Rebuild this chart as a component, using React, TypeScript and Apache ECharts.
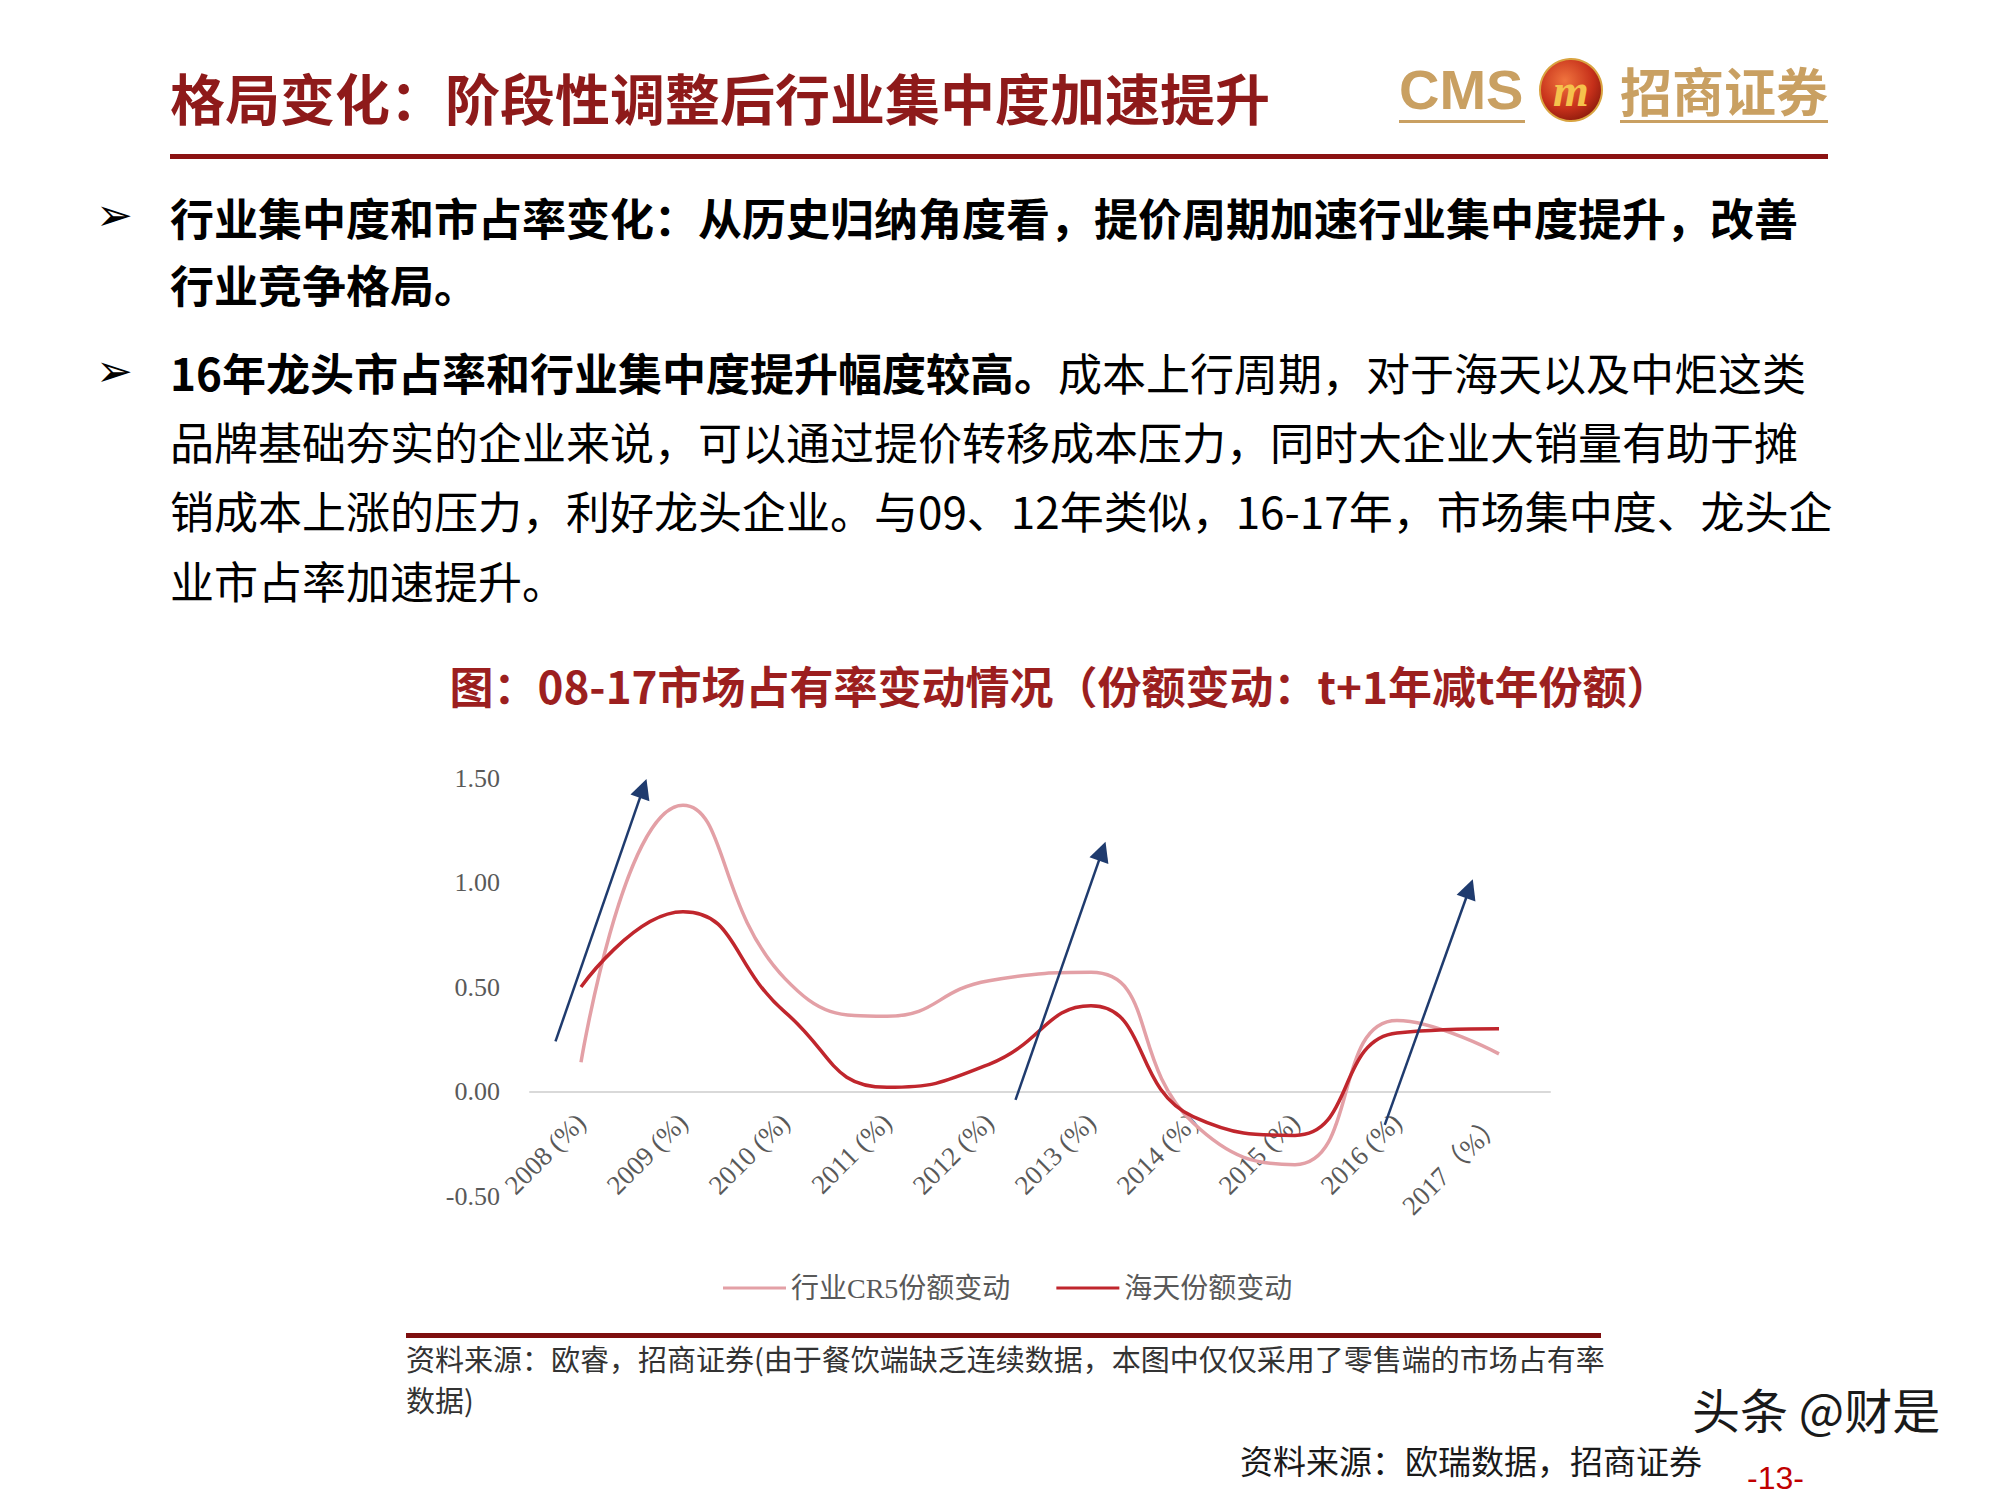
import React, { useEffect, useRef } from 'react';
import * as echarts from 'echarts';

// ---- data ----
const categories = ['2008 (%)', '2009 (%)', '2010 (%)', '2011 (%)', '2012 (%)', '2013 (%)', '2014 (%)', '2015 (%)', '2016 (%)', '2017（%）'];
const cr5Change = [0.14, 1.37, 0.54, 0.36, 0.53, 0.57, -0.15, -0.35, 0.34, 0.18];
const haitianChange = [0.5, 0.86, 0.38, 0.02, 0.13, 0.41, -0.12, -0.21, 0.28, 0.3];
const seriesNames = ['行业CR5份额变动', '海天份额变动'];
const yMin = -0.5;
const yMax = 1.5;
const yInterval = 0.5;
// arrow annotations: [category index position, value]
const arrowSegments = [
  [[-0.25, 0.24], [0.61, 1.45]],
  [[4.26, -0.04], [5.11, 1.15]],
  [[7.88, -0.16], [8.71, 0.97]],
];

const pageTitle = '格局变化：阶段性调整后行业集中度加速提升';
const chartTitle = '图：08-17市场占有率变动情况（份额变动：t+1年减t年份额）';
const bullet1Lines = ['行业集中度和市占率变化：从历史归纳角度看，提价周期加速行业集中度提升，改善', '行业竞争格局。'];
const bullet2Bold = '16年龙头市占率和行业集中度提升幅度较高。';
const bullet2Rest = '成本上行周期，对于海天以及中炬这类';
const bullet2Lines = ['品牌基础夯实的企业来说，可以通过提价转移成本压力，同时大企业大销量有助于摊', '销成本上涨的压力，利好龙头企业。与09、12年类似，16-17年，市场集中度、龙头企', '业市占率加速提升。'];
const noteLines = ['资料来源：欧睿，招商证券(由于餐饮端缺乏连续数据，本图中仅仅采用了零售端的市场占有率', '数据)'];
const footSource = '资料来源：欧瑞数据，招商证券';
const pageNo = '-13-';
const watermark = '头条 @财是';

const CJK = '"Noto Sans CJK SC", sans-serif';
const SERIF = '"Liberation Serif", "Noto Sans CJK SC", serif';
const GOLD = '#C9A062';
const DARKRED = '#8E1A1A';

export default function App() {
  const ref = useRef<HTMLDivElement>(null);
  useEffect(() => {
    if (!ref.current) return;
    const chart = echarts.init(ref.current, null, { renderer: 'svg' });

    const txt = (x: number, y: number, text: string, size: number, opts: any = {}) => ({
      type: 'text',
      x,
      y,
      silent: true,
      style: {
        text,
        fontSize: size,
        fontFamily: opts.family || CJK,
        fontWeight: opts.weight || 'normal',
        fontStyle: opts.style || 'normal',
        fill: opts.fill || '#000',
        align: opts.align || 'left',
        verticalAlign: 'middle',
        ...(opts.extra || {}),
      },
    });

    const bodySize = 44;
    const graphics: any[] = [
      // title
      txt(170, 96, pageTitle, 55, { weight: 'bold', fill: DARKRED }),
      { type: 'rect', silent: true, shape: { x: 170, y: 154, width: 1658, height: 5 }, style: { fill: '#8B1212' } },
      // logo
      txt(1399, 89, 'CMS', 56, { weight: 'bold', family: '"Liberation Sans", Arial, sans-serif', fill: GOLD }),
      { type: 'rect', silent: true, shape: { x: 1399, y: 120, width: 126, height: 3 }, style: { fill: GOLD } },
      {
        type: 'circle', silent: true,
        shape: { cx: 1571, cy: 90, r: 31 },
        style: {
          fill: new echarts.graphic.RadialGradient(0.4, 0.35, 0.7, [
            { offset: 0, color: '#F0743E' },
            { offset: 0.65, color: '#C6301A' },
            { offset: 1, color: '#8A1A0C' },
          ]),
          stroke: '#D9A441',
          lineWidth: 2,
        },
      },
      txt(1571, 90, 'm', 46, { weight: 'bold', style: 'italic', family: SERIF, fill: '#F5C24C', align: 'center' }),
      txt(1620, 89, '招商证券', 52, { weight: 'bold', fill: GOLD }),
      { type: 'rect', silent: true, shape: { x: 1620, y: 120, width: 208, height: 3 }, style: { fill: GOLD } },
      // bullets
      txt(96, 214, '➢', 44, { family: '"DejaVu Sans", sans-serif' }),
      txt(96, 370, '➢', 44, { family: '"DejaVu Sans", sans-serif' }),
      txt(170, 217, bullet1Lines[0], bodySize, { weight: 'bold' }),
      txt(170, 284, bullet1Lines[1], bodySize, { weight: 'bold' }),
      {
        type: 'text', x: 170, y: 372, silent: true,
        style: {
          text: '{b|' + bullet2Bold + '}{n|' + bullet2Rest + '}',
          verticalAlign: 'middle',
          rich: {
            b: { fontSize: bodySize, fontWeight: 'bold', fontFamily: CJK, fill: '#000', color: '#000' },
            n: { fontSize: bodySize, fontWeight: 'normal', fontFamily: CJK, fill: '#000', color: '#000' },
          },
        },
      },
      txt(170, 441, bullet2Lines[0], bodySize),
      txt(170, 510, bullet2Lines[1], bodySize),
      txt(170, 580, bullet2Lines[2], bodySize),
      // chart title
      txt(1060, 685, chartTitle, 44, { weight: 'bold', fill: '#9C1F1F', align: 'center' }),
      // bottom rule and note
      { type: 'rect', silent: true, shape: { x: 406, y: 1333, width: 1195, height: 5 }, style: { fill: '#7E0F0F' } },
      txt(406, 1358, noteLines[0], 29, { fill: '#333' }),
      txt(406, 1399, noteLines[1], 29, { fill: '#333' }),
      txt(1240, 1460, footSource, 33, { fill: '#1a1a1a' }),
      txt(1692, 1408, watermark, 48, { fill: '#1a1a1a', extra: { stroke: '#ffffff', lineWidth: 2 } }),
      txt(1747, 1478, pageNo, 32, { family: '"Liberation Sans", Arial, sans-serif', fill: '#C00000' }),
    ];

    chart.setOption({
      animation: false,
      backgroundColor: '#ffffff',
      grid: { left: 530, right: 450, top: 778, bottom: 304, containLabel: false },
      legend: {
        data: seriesNames,
        left: 718,
        top: 1269,
        icon: 'rect',
        itemWidth: 63,
        itemHeight: 3,
        itemGap: 46,
        textStyle: { fontSize: 28, color: '#595959', fontFamily: SERIF },
      },
      xAxis: [
        {
          type: 'category',
          data: categories,
          boundaryGap: true,
          position: 'bottom',
          offset: -104,
          axisLine: { show: true, onZero: false, lineStyle: { color: '#D9D9D9', width: 2 } },
          axisTick: { show: false },
          axisLabel: { rotate: 45, margin: 26, fontSize: 27, color: '#595959', fontFamily: SERIF, interval: 0 },
          splitLine: { show: false },
        },
        { type: 'value', min: -0.5, max: categories.length - 0.5, show: false },
      ],
      yAxis: {
        type: 'value',
        min: yMin,
        max: yMax,
        interval: yInterval,
        axisLine: { show: false },
        axisTick: { show: false },
        splitLine: { show: false },
        axisLabel: {
          margin: 30,
          fontSize: 26,
          color: '#595959',
          fontFamily: SERIF,
          formatter: (v: number) => v.toFixed(2),
        },
      },
      series: [
        {
          name: seriesNames[0],
          type: 'line',
          data: cr5Change,
          smooth: 0.5,
          symbol: 'none',
          lineStyle: { color: '#E3A0A6', width: 3.5 },
          itemStyle: { color: '#E3A0A6' },
          z: 2,
        },
        {
          name: seriesNames[1],
          type: 'line',
          data: haitianChange,
          smooth: 0.5,
          symbol: 'none',
          lineStyle: { color: '#C0262D', width: 3.5 },
          itemStyle: { color: '#C0262D' },
          z: 3,
        },
        {
          type: 'lines',
          coordinateSystem: 'cartesian2d',
          xAxisIndex: 1,
          yAxisIndex: 0,
          symbol: ['none', 'triangle'],
          symbolSize: 20,
          lineStyle: { color: '#1F3B6E', width: 2.5, curveness: 0, opacity: 1 },
          data: arrowSegments.map((c) => ({ coords: c })),
          z: 4,
        },
      ],
      graphic: graphics,
    });
    return () => chart.dispose();
  }, []);
  return (
    <div
      ref={ref}
      style={{ position: 'absolute', left: 0, top: 0, width: 2000, height: 1500, background: '#fff' }}
    />
  );
}
